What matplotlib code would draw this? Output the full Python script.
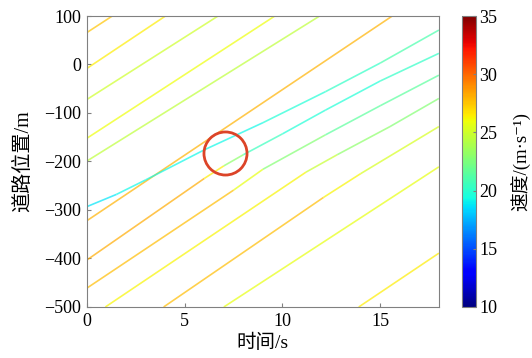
import numpy as np
import matplotlib
matplotlib.use('Agg')
import matplotlib.pyplot as plt
from matplotlib.collections import LineCollection
from matplotlib.colors import Normalize

plt.rcParams['font.family'] = ['Liberation Serif', 'Noto Sans CJK SC', 'DejaVu Serif']

# 车辆轨迹: 时间(s), 位置(m), 速度(m/s)
traj_t = [
    [0, 1.6],
    [0, 4.2],
    [0, 6.9],
    [0, 9.8],
    [0, 12.1],
    [0, 15.8],
    [0, 1.5, 3, 6, 9, 12.2, 15, 18],
    [0, 6.0, 7.0, 8.0, 10, 12.2, 15, 18],
    [0, 7.5, 9, 12.2, 15, 18],
    [0.94, 11.2, 12.8, 15.5, 18],
    [3.92, 12.1, 14, 18],
    [7.0, 18],
    [13.9, 18],
]
traj_y = [
    [66, 108],
    [-8, 105],
    [-72, 105],
    [-152, 105],
    [-199, 105],
    [-322, 105],
    [-293, -268, -238, -176, -120, -56, 3, 71],
    [-403, -235, -209, -186, -143, -94, -34, 23],
    [-461, -259, -216, -145, -85, -22],
    [-500, -222, -186, -128, -70],
    [-500, -274, -225, -128],
    [-500, -211],
    [-500, -389],
]
traj_v = [
    [27.5, 27.5],
    [26.5, 26.5],
    [25, 25],
    [26, 26],
    [24.5, 24.5],
    [27.5, 28.5],
    [18.5, 19, 19.5, 19, 19.5, 20, 20.5, 21.5],
    [28.5, 28, 25, 21, 20, 19.5, 20, 20.5],
    [28, 27.5, 24, 21.5, 21.5, 21.5],
    [26.5, 26, 23.5, 22.5, 23],
    [28.5, 27, 25.5, 25],
    [25.8, 25.8],
    [26.5, 26.5],
]

# 冲突点
conflict_t = 7.05
conflict_y = -182

fig = plt.figure(figsize=(5.32, 3.58), dpi=100)
ax = fig.add_axes([0.1635, 0.1425, 0.6615, 0.8128])
cax = fig.add_axes([0.868, 0.1425, 0.027, 0.8128])

norm = Normalize(10, 35)
cmap = plt.get_cmap('jet')

for t, y, v in zip(traj_t, traj_y, traj_v):
    pts = np.column_stack([t, y])
    segs = np.stack([pts[:-1], pts[1:]], axis=1)
    v = np.asarray(v, dtype=float)
    lc = LineCollection(segs, cmap=cmap, norm=norm, linewidths=1.2, alpha=0.7)
    lc.set_array((v[:-1] + v[1:]) / 2)
    ax.add_collection(lc)

ax.plot(conflict_t, conflict_y, 'o', ms=31, mfc='none', mec='#dc4428', mew=2)

ax.set_xlim(0, 18)
ax.set_ylim(-500, 100)
ax.set_xticks([0, 5, 10, 15])
ax.set_yticks(np.arange(-500, 101, 100))
ax.tick_params(direction='in', length=3, labelsize=13, color='#808080', pad=4)
for s in ax.spines.values():
    s.set_color('#808080')
ax.set_xlabel('时间/s', fontsize=14, labelpad=3)
ax.set_ylabel('道路位置/m', fontsize=14.5, labelpad=8)

sm = plt.cm.ScalarMappable(norm=norm, cmap=cmap)
cb = fig.colorbar(sm, cax=cax, ticks=[10, 15, 20, 25, 30, 35])
cb.outline.set_edgecolor('#808080')
cb.ax.tick_params(direction='in', length=2, labelsize=13, color='#808080', pad=2)
cb.set_label('速度/(m·s⁻¹)', fontsize=13.5, labelpad=10)

fig.savefig('out.png', dpi=100)
